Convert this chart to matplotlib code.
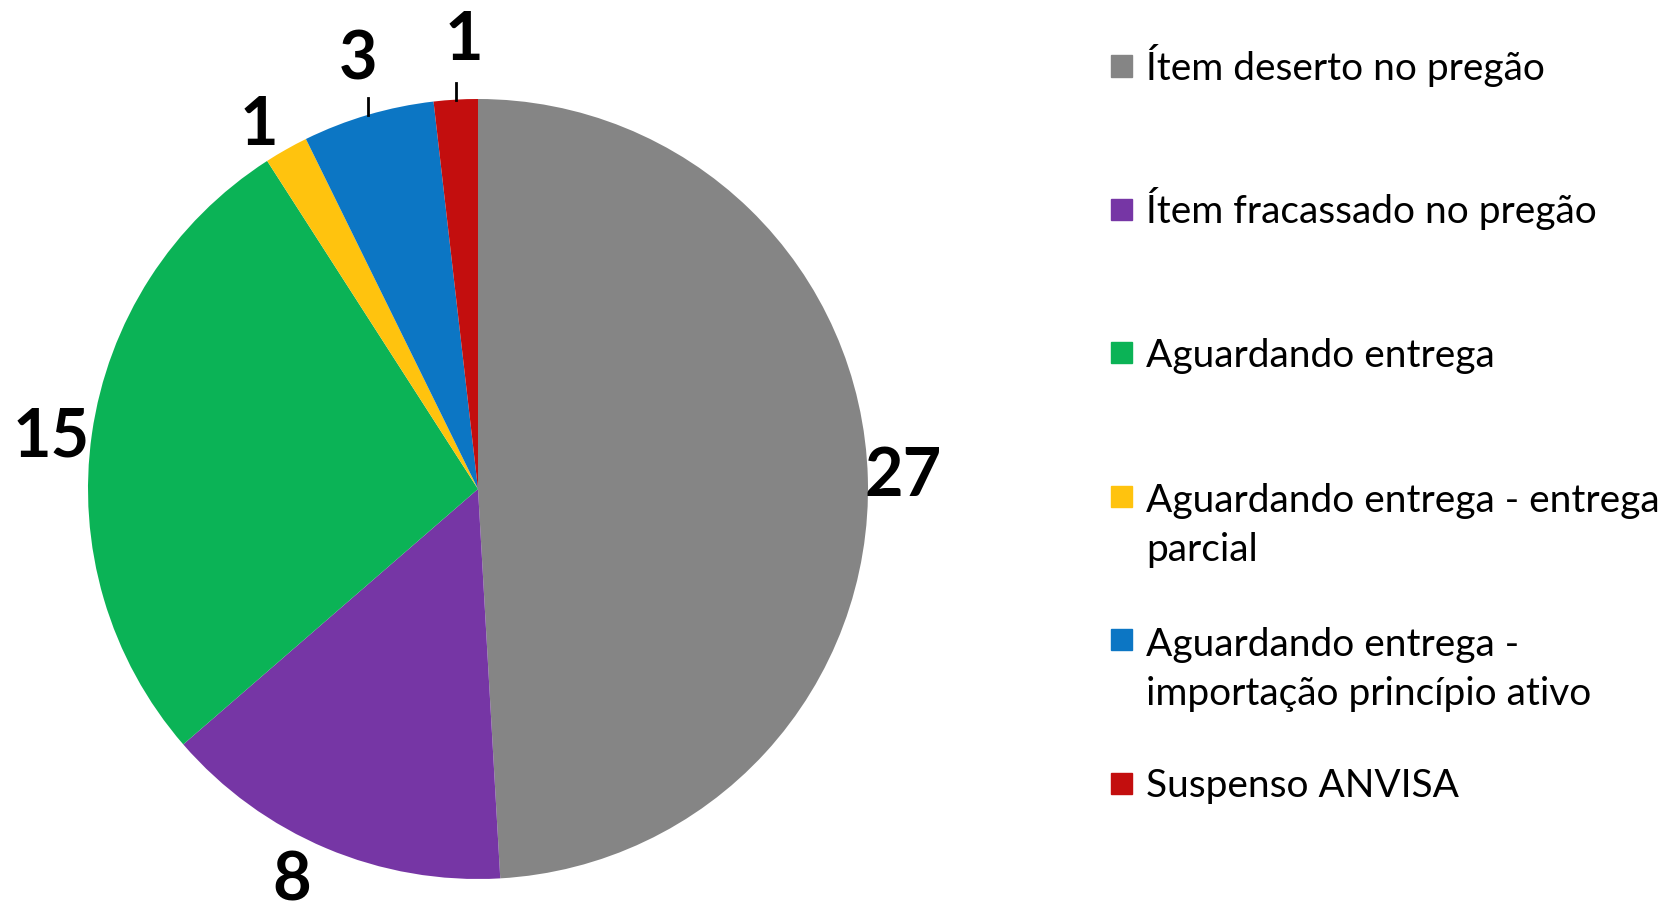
import numpy as np
import matplotlib.pyplot as plt

categories = ['Ítem deserto no pregão', 'Ítem fracassado no pregão', 'Aguardando entrega',
              'Aguardando entrega - entrega\nparcial',
              'Aguardando entrega -\nimportação princípio ativo', 'Suspenso ANVISA']
values = [27, 8, 15, 1, 3, 1]
colors = ['#858585', '#7636a5', '#0bb356', '#ffc30e', '#0c76c4', '#c30e0e']

# label placement: radius in pie units, extra nudge in pixels, leader line or not
label_dist = [1.09, 1.10, 1.10, 1.11, 1.155, 1.15]
label_nudge = [(0, 0), (-19, 3), (-2, -10), (-6, -14), (7, -4), (12, 0)]
leader = [False, False, False, False, True, True]

W, H = 1668, 901
fig = plt.figure(figsize=(W / 100, H / 100), dpi=100)

# pie: centre (478, 489) px, radius 390 px
cx, cy, R = 478, 489, 390
ax = fig.add_axes([(cx - R) / W, (H - cy - R) / H, 2 * R / W, 2 * R / H])
wedges, _ = ax.pie(values, colors=colors, startangle=90, counterclock=False,
                   radius=1, wedgeprops=dict(linewidth=0))
ax.set_xlim(-1, 1)
ax.set_ylim(-1, 1)
ax.set_aspect('equal')
ax.axis('off')

for w, v, d, nd, ld in zip(wedges, values, label_dist, label_nudge, leader):
    ang = np.deg2rad((w.theta1 + w.theta2) / 2)
    x, y = np.cos(ang), np.sin(ang)
    ax.annotate(str(v), (d * x, d * y), xytext=nd, textcoords='offset pixels',
                ha='center', va='center', fontsize=48, fontweight='bold',
                family='Lato', annotation_clip=False)
    if ld:
        ax.plot([x, x], [y, y + 0.042], color='black', lw=2, clip_on=False)

# legend (pixel layout, y measured from top)
base0, step, pitch = 80, 143.4, 51
for i, (lab, c) in enumerate(zip(categories, colors)):
    yb = base0 + i * step
    mid = yb - 14
    fig.patches.append(plt.Rectangle((1111 / W, 1 - (mid + 10.5) / H), 21 / W, 21 / H,
                                     transform=fig.transFigure, color=c))
    last = yb + pitch * lab.count('\n')
    fig.text(1146 / W, 1 - last / H, lab, ha='left', va='baseline', fontsize=28,
             family='Lato', linespacing=1.45)

fig.savefig('out.png', dpi=100)
